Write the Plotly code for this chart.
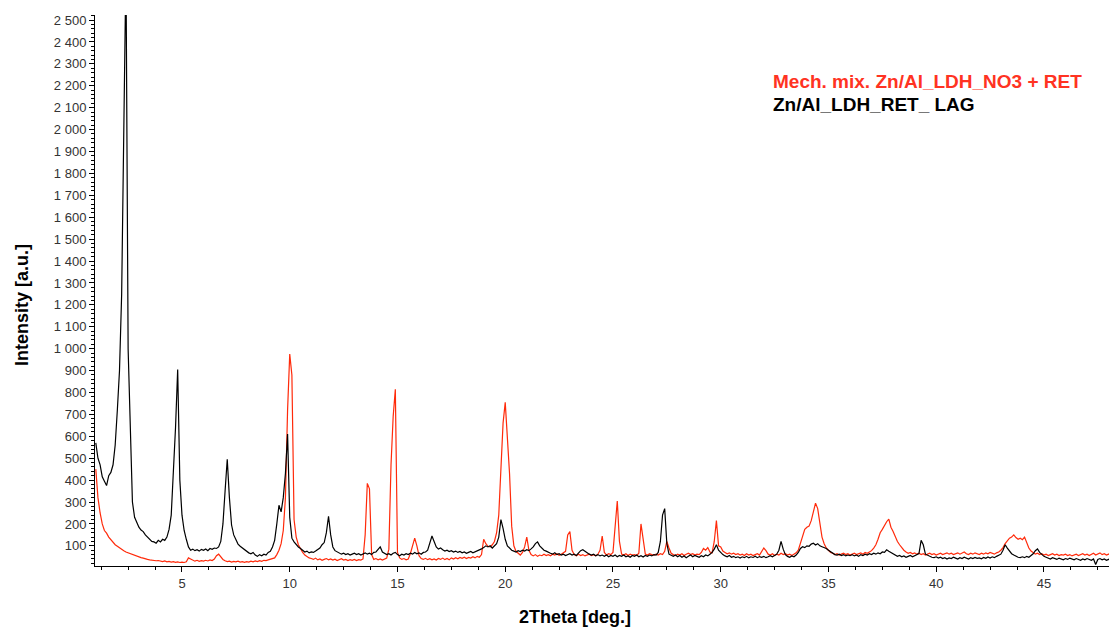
import numpy as np
import plotly.graph_objects as go

# 2Theta grid start/step (deg)
theta_start = 1.0
theta_step = 0.1

series_names = ["Mech. mix. Zn/Al_LDH_NO3 + RET", "Zn/Al_LDH_RET_ LAG"]

# Mech. mix. Zn/Al_LDH_NO3 + RET (red), one row per degree
red = [
    450, 320, 250, 200, 170, 158, 140, 128, 118, 105,   # 1
    98, 90, 82, 78, 72, 68, 64, 60, 56, 52,             # 2
    50, 46, 44, 40, 38, 36, 34, 35, 32, 33,             # 3
    30, 28, 31, 27, 29, 26, 28, 25, 27, 24,             # 4
    26, 24, 27, 45, 40, 33, 30, 34, 29, 32,             # 5
    30, 34, 31, 36, 33, 40, 55, 62, 50, 38,             # 6
    32, 28, 30, 26, 29, 27, 30, 26, 28, 25,             # 7
    28, 26, 30, 27, 31, 28, 32, 29, 34, 33,             # 8
    36, 38, 42, 45, 60, 80, 110, 170, 320, 720,         # 9
    975, 880, 220, 140, 105, 85, 70, 58, 50, 45,        # 10
    42, 38, 44, 36, 40, 34, 38, 42, 36, 40,             # 11
    35, 39, 33, 37, 41, 35, 38, 33, 37, 34,             # 12
    38, 33, 37, 35, 40, 150, 385, 360, 60, 38,          # 13
    42, 36, 40, 35, 39, 44, 85, 470, 690, 815,          # 14
    70, 45, 38, 42, 36, 40, 65, 95, 135, 100,           # 15
    55, 42, 38, 43, 37, 41, 36, 40, 35, 42,             # 16
    38, 44, 37, 42, 36, 45, 40, 46, 41, 47,             # 17
    43, 48, 42, 47, 44, 50, 45, 52, 48, 60,             # 18
    130, 110, 98, 95, 105, 120, 160, 240, 480, 660,     # 19
    755, 610, 430, 190, 100, 75, 65, 58, 70, 95,        # 20
    140, 80, 60, 54, 60, 52, 58, 55, 62, 56,            # 21
    60, 55, 62, 58, 64, 57, 62, 68, 75, 150,            # 22
    165, 80, 60, 55, 62, 56, 60, 54, 58, 62,            # 23
    56, 60, 55, 62, 80, 145, 70, 58, 64, 60,            # 24
    70, 190, 305, 120, 62, 58, 64, 56, 62, 58,          # 25
    60, 56, 66, 200, 140, 62, 58, 64, 60, 58,           # 26
    62, 58, 64, 60, 75, 120, 90, 66, 60, 56,            # 27
    62, 58, 64, 56, 62, 66, 60, 64, 58, 62,             # 28
    60, 70, 88, 80, 92, 72, 68, 120, 215, 100,          # 29
    95, 76, 70, 64, 68, 62, 66, 60, 64, 58,             # 30
    62, 56, 64, 58, 62, 56, 60, 64, 58, 75,             # 31
    90, 78, 62, 58, 64, 56, 62, 58, 66, 60,             # 32
    64, 58, 62, 56, 62, 68, 80, 110, 150, 175,          # 33
    185, 190, 215, 260, 295, 270, 200, 140, 110, 90,    # 34
    80, 70, 66, 60, 64, 58, 62, 66, 60, 64,             # 35
    58, 62, 66, 60, 64, 68, 62, 70, 66, 72,             # 36
    78, 90, 105, 130, 160, 175, 195, 210, 222, 185,     # 37
    165, 140, 120, 105, 90, 80, 72, 66, 70, 64,         # 38
    68, 62, 66, 60, 64, 58, 62, 66, 60, 64,             # 39
    58, 62, 66, 60, 64, 68, 62, 66, 60, 64,             # 40
    68, 62, 66, 72, 64, 60, 66, 62, 68, 64,             # 41
    60, 66, 62, 68, 64, 70, 66, 62, 68, 72,             # 42
    80, 92, 110, 125, 135, 140, 150, 138, 130, 135,     # 43
    128, 140, 115, 90, 76, 68, 62, 66, 60, 64,          # 44
    58, 62, 56, 60, 64, 58, 62, 56, 60, 58,             # 45
    62, 56, 60, 54, 58, 62, 56, 60, 64, 58,             # 46
    62, 56, 60, 66, 58, 62, 68, 60, 64, 58,             # 47
    62, 66, 58, 64, 60,                                 # 48
]

# Zn/Al_LDH_RET_ LAG (black), one row per degree
black = [
    570, 500, 470, 415, 395, 375, 420, 435, 470, 560,   # 1
    720, 900, 1250, 2000, 2750, 1000, 600, 300, 230, 205,  # 2
    185, 172, 165, 150, 140, 128, 120, 118, 112, 125,   # 3
    118, 130, 125, 140, 175, 240, 420, 640, 905, 400,   # 4
    240, 170, 130, 95, 80, 85, 78, 82, 76, 84,          # 5
    80, 86, 78, 88, 84, 90, 88, 95, 120, 200,           # 6
    350, 495, 320, 195, 150, 125, 108, 98, 90, 82,      # 7
    72, 68, 64, 70, 58, 52, 60, 55, 62, 58,             # 8
    70, 75, 95, 125, 200, 285, 255, 320, 430, 610,      # 9
    230, 135, 118, 105, 95, 88, 80, 72, 76, 68,         # 10
    72, 70, 76, 82, 90, 105, 115, 160, 235, 150,        # 11
    95, 78, 72, 68, 62, 66, 60, 64, 58, 62,             # 12
    66, 60, 64, 58, 62, 68, 62, 66, 60, 70,             # 13
    72, 85, 95, 72, 66, 60, 64, 58, 66, 70,             # 14
    60, 55, 62, 58, 64, 60, 66, 62, 70, 64,             # 15
    68, 62, 70, 72, 80, 110, 145, 120, 95, 85,          # 16
    90, 82, 76, 80, 74, 78, 72, 76, 70, 74,             # 17
    68, 72, 66, 70, 74, 68, 72, 76, 80, 86,             # 18
    92, 100, 95, 100, 90, 98, 110, 140, 220, 180,       # 19
    130, 100, 88, 80, 76, 72, 78, 74, 80, 76,           # 20
    82, 78, 86, 95, 110, 118, 100, 88, 80, 76,          # 21
    70, 66, 62, 68, 60, 64, 58, 62, 56, 60,             # 22
    64, 58, 62, 56, 66, 78, 82, 74, 68, 62,             # 23
    58, 62, 55, 60, 54, 58, 52, 58, 50, 56,             # 24
    52, 58, 50, 56, 52, 58, 50, 54, 48, 56,             # 25
    52, 58, 50, 55, 49, 56, 52, 58, 54, 60,             # 26
    58, 70, 120, 240, 270, 110, 62, 56, 52, 58,         # 27
    50, 56, 48, 54, 46, 52, 58, 50, 56, 52,             # 28
    48, 55, 50, 58, 54, 62, 70, 85, 105, 80,            # 29
    68, 60, 54, 50, 56, 48, 52, 46, 50, 44,             # 30
    50, 46, 52, 45, 50, 47, 53, 46, 51, 48,             # 31
    52, 46, 50, 55, 50, 58, 62, 80, 120, 85,            # 32
    60, 52, 48, 54, 50, 58, 70, 88, 96, 92,             # 33
    100, 98, 108, 112, 104, 110, 100, 96, 92, 88,       # 34
    80, 72, 66, 60, 58, 62, 56, 60, 54, 58,             # 35
    55, 60, 54, 58, 52, 60, 56, 62, 58, 64,             # 36
    60, 66, 62, 68, 64, 72, 70, 82, 75, 70,             # 37
    64, 58, 52, 56, 50, 54, 48, 52, 56, 50,             # 38
    54, 58, 65, 125, 105, 62, 56, 50, 48, 46,           # 39
    50, 44, 48, 42, 46, 40, 45, 42, 48, 44,             # 40
    40, 46, 42, 48, 44, 40, 46, 42, 47, 43,             # 41
    45, 41, 47, 43, 49, 44, 50, 46, 52, 56,             # 42
    62, 80, 105, 90, 75, 64, 58, 52, 48, 46,            # 43
    50, 46, 52, 48, 56, 64, 78, 86, 70, 60,             # 44
    52, 48, 44, 40, 46, 42, 38, 44, 40, 36,             # 45
    42, 38, 44, 40, 36, 42, 38, 34, 40, 36,             # 46
    42, 38, 34, 40, 15, 38, 42, 36, 40, 34,             # 47
    38, 42, 36, 40, 38,                                 # 48
]

x_red = np.round(theta_start + theta_step * np.arange(len(red)), 2)
x_black = np.round(theta_start + theta_step * np.arange(len(black)), 2)

RED = "#ff2a0a"
BLACK = "#000000"
FONT = "Arial, Liberation Sans, sans-serif"

# the page body adds an 8px offset, so the figure is 8px smaller than the window
PAGE_OFF = 8
W, H = 1117 - PAGE_OFF, 630 - PAGE_OFF
ML, MT, MB = 95 - PAGE_OFF, 15 - PAGE_OFF, 64
PW, PH = W - ML, H - MT - MB   # plot area size in px


def px_x(px):
    return (px - 95) / PW


def px_y(py):
    return (566 - py) / PH


fig = go.Figure()
fig.add_trace(go.Scatter(x=x_red, y=red, mode="lines", name=series_names[0],
                         line=dict(color=RED, width=1.2)))
fig.add_trace(go.Scatter(x=x_black, y=black, mode="lines", name=series_names[1],
                         line=dict(color=BLACK, width=1.2)))

fig.update_layout(
    width=W, height=H,
    margin=dict(l=ML, r=0, t=MT, b=MB, pad=0),
    paper_bgcolor="white", plot_bgcolor="white",
    showlegend=False,
    separators=". ",
    font=dict(family=FONT, size=13, color="#333333"),
)

fig.update_xaxes(
    range=[0.963, 48.39],
    showline=True, linecolor="black", linewidth=1,
    showgrid=False, zeroline=False,
    ticks="outside", ticklen=5, tickwidth=1, tickcolor="black",
    tick0=0, dtick=5,
    tickfont=dict(family=FONT, size=13, color="#333333"),
    minor=dict(ticks="outside", ticklen=3, tickcolor="black", tick0=0, dtick=1.25, showgrid=False),
)
fig.update_yaxes(
    range=[8, 2523],
    showline=True, linecolor="black", linewidth=1,
    showgrid=False, zeroline=False,
    ticks="outside", ticklen=5, tickwidth=1, tickcolor="black",
    tick0=0, dtick=100, tickformat=",d",
    tickfont=dict(family=FONT, size=13, color="#333333"),
    minor=dict(ticks="outside", ticklen=3, tickcolor="black", tick0=0, dtick=20, showgrid=False),
)

# axis titles
fig.add_annotation(text="<b>2Theta [deg.]</b>", xref="paper", yref="paper",
                   x=px_x(575), y=px_y(617),
                   xanchor="center", yanchor="middle", showarrow=False,
                   font=dict(family=FONT, size=18, color="black"))
fig.add_annotation(text="<b>Intensity [a.u.]</b>", xref="paper", yref="paper",
                   x=px_x(22), y=px_y(305), textangle=-90,
                   xanchor="center", yanchor="middle", showarrow=False,
                   font=dict(family=FONT, size=18, color="black"))

# legend text
fig.add_annotation(text="<b>" + series_names[0] + "</b>", xref="paper", yref="paper",
                   x=px_x(771), y=px_y(82),
                   xanchor="left", yanchor="middle", showarrow=False,
                   font=dict(family=FONT, size=19, color="#ff3322"))
fig.add_annotation(text="<b>" + series_names[1] + "</b>", xref="paper", yref="paper",
                   x=px_x(771), y=px_y(105),
                   xanchor="left", yanchor="middle", showarrow=False,
                   font=dict(family=FONT, size=19, color="black"))

fig.write_html("out.html")
